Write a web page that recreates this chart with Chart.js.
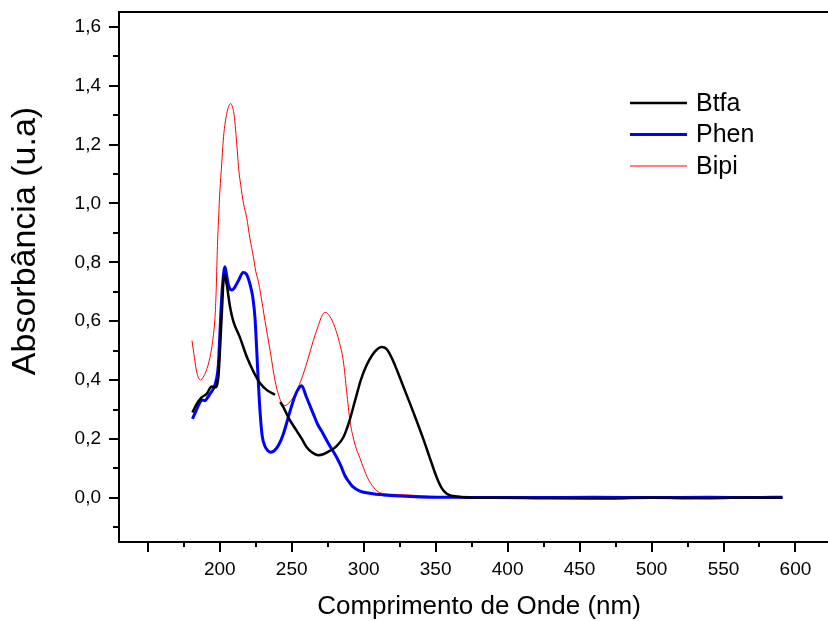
<!DOCTYPE html>
<html>
<head>
<meta charset="utf-8">
<script src="https://cdn.jsdelivr.net/npm/chart.js@4.4.1/dist/chart.umd.min.js"></script>
<style>
  html, body { margin: 0; padding: 0; background: #fff; }
</style>
</head>
<body>
<canvas id="spectra" width="828" height="621"></canvas>
<script>
// UV-Vis spectra: wavelength (nm) and absorbance for each ligand
const btfaNm  = [181, 184, 187.4, 190.9, 194.4, 196.7, 199, 201.3, 203.1, 204.8, 207.1, 209.4, 214, 218.7, 223.3, 227.9, 233, 238.4,
                 240.5,
                 242, 244, 248, 253.4, 257, 260.4, 264, 268.5, 272, 276.6, 281, 285.8, 290, 294, 298, 302, 306, 309, 312.5,
                 316, 320, 323, 327, 332.2, 336.5, 341.4, 346, 350.7, 354, 357.7, 362, 370, 390, 420, 460, 500, 540, 570, 591];
const btfaAbs = [0.29, 0.319, 0.341, 0.353, 0.378, 0.375, 0.409, 0.613, 0.76, 0.726, 0.65, 0.60, 0.545, 0.48, 0.43, 0.39, 0.365, 0.35,
                 null,
                 0.325, 0.31, 0.27, 0.228, 0.2, 0.172, 0.155, 0.145, 0.148, 0.16, 0.175, 0.205, 0.26, 0.33, 0.40, 0.45, 0.485, 0.503, 0.512,
                 0.505, 0.47, 0.435, 0.385, 0.32, 0.265, 0.2, 0.135, 0.07, 0.035, 0.014, 0.006, 0.002, 0.0, -0.001, -0.002, 0.0, -0.001, 0.001, 0.0];

const phenNm  = [181, 183.5, 186.2, 188, 189.7, 191.5, 193.2, 195.5, 197.8, 199, 200.1, 201, 202, 203.6, 205, 205.9, 207, 208.3, 210,
                 212.9, 216.3, 218.5, 221, 223, 224.5, 225.5, 226.5, 227.5, 228.5, 229.5, 231.4, 233.5, 235.4, 238, 241, 244.2, 248,
                 251.1, 254, 256.9, 260, 265, 268, 271.9, 276, 281.2, 284, 287, 289.2, 292, 297.4, 305, 313.6, 325, 340, 360, 380,
                 420, 460, 500, 540, 570, 591];
const phenAbs = [0.268, 0.295, 0.324, 0.332, 0.33, 0.34, 0.353, 0.37, 0.404, 0.45, 0.556, 0.65, 0.726, 0.785, 0.75, 0.726, 0.71, 0.706, 0.712,
                 0.737, 0.765, 0.76, 0.726, 0.68, 0.61, 0.52, 0.42, 0.33, 0.26, 0.21, 0.175, 0.16, 0.155, 0.16, 0.18, 0.217, 0.28,
                 0.33, 0.365, 0.381, 0.345, 0.285, 0.25, 0.217, 0.18, 0.138, 0.11, 0.075, 0.058, 0.04, 0.023, 0.015, 0.01, 0.006, 0.003, 0.002, 0.001,
                 0.001, 0.002, 0.001, 0.002, 0.001, 0.002];

const bipiNm  = [180.7, 182, 183.5, 185, 186.7, 188.5, 190.5, 193.2, 195, 196.7, 197.5, 198.3, 199.2, 200.1, 201.3, 202.4, 203.5, 204.8,
                 206.2, 207.6, 208.8, 209.9, 211, 212.2, 213.3, 214.5, 216.5, 218.7, 221, 223.3, 225, 226.8, 228.5, 231.4, 235, 238.4,
                 241.5, 243.5, 245.3, 248, 251, 254.5, 258, 261.5, 265, 268.5, 271, 273.1, 275.5, 278, 280, 283, 285.8, 288.2, 290.5,
                 293, 295, 297.4, 300, 303, 307, 311, 320, 329.8, 340, 353, 370, 400, 440, 480, 500, 522, 545, 570, 591];
const bipiAbs = [0.534, 0.49, 0.44, 0.41, 0.40, 0.41, 0.43, 0.477, 0.53, 0.613, 0.7, 0.84, 0.95, 1.043, 1.13, 1.212, 1.265, 1.303,
                 1.33, 1.339, 1.328, 1.303, 1.25, 1.178, 1.11, 1.065, 1.0, 0.952, 0.88, 0.82, 0.77, 0.735, 0.69, 0.602, 0.5, 0.398,
                 0.34, 0.32, 0.313, 0.322, 0.341, 0.375, 0.42, 0.475, 0.534, 0.585, 0.618, 0.63, 0.623, 0.603, 0.579, 0.53, 0.466, 0.36, 0.26,
                 0.2, 0.165, 0.135, 0.1, 0.065, 0.035, 0.018, 0.012, 0.01, 0.007, 0.004, 0.002, 0.0, -0.001, -0.003, 0.0, -0.004, 0.0, -0.001, 0.0];

// axis ticks
const xMajor = [150, 200, 250, 300, 350, 400, 450, 500, 550, 600];
const xMinor = [175, 225, 275, 325, 375, 425, 475, 525, 575];
const yMajor = [0, 0.2, 0.4, 0.6, 0.8, 1.0, 1.2, 1.4, 1.6];
const yMinor = [-0.1, 0.1, 0.3, 0.5, 0.7, 0.9, 1.1, 1.3, 1.5];

const xTitle = 'Comprimento de Onde (nm)';
const yTitle = 'Absorbância (u.a)';

const FONT = '"Liberation Sans", Arial, sans-serif';

function toPoints(nm, abs) {
    return nm.map((x, i) => ({ x: x, y: abs[i] }));
}

// box on left/top/bottom with outward major and minor tick marks, plus axis titles
const axisFrame = {
    id: 'axisFrame',
    afterDatasetsDraw(chart) {
        const { ctx, chartArea: a, scales: { x, y } } = chart;
        ctx.save();
        ctx.strokeStyle = '#000';
        ctx.lineWidth = 2;
        ctx.beginPath();
        ctx.moveTo(a.right, a.top);
        ctx.lineTo(a.left, a.top);
        ctx.lineTo(a.left, a.bottom);
        ctx.lineTo(a.right, a.bottom);
        xMajor.forEach(v => { const p = Math.round(x.getPixelForValue(v)); ctx.moveTo(p, a.bottom); ctx.lineTo(p, a.bottom + 10); });
        xMinor.forEach(v => { const p = Math.round(x.getPixelForValue(v)); ctx.moveTo(p, a.bottom); ctx.lineTo(p, a.bottom + 5); });
        yMajor.forEach(v => { const p = Math.round(y.getPixelForValue(v)); ctx.moveTo(a.left - 10, p); ctx.lineTo(a.left, p); });
        yMinor.forEach(v => { const p = Math.round(y.getPixelForValue(v)); ctx.moveTo(a.left - 6, p); ctx.lineTo(a.left, p); });
        ctx.stroke();

        ctx.fillStyle = '#000';
        ctx.textAlign = 'center';
        ctx.font = '26px ' + FONT;
        ctx.textBaseline = 'alphabetic';
        ctx.fillText(xTitle, a.left + 360, chart.height - 7);

        ctx.translate(26, a.top + 229);
        ctx.rotate(-Math.PI / 2);
        ctx.font = '34px ' + FONT;
        ctx.textBaseline = 'middle';
        ctx.fillText(yTitle, 0, 0);
        ctx.restore();
    }
};

// legend drawn inside the plot, upper right
const insetLegend = {
    id: 'insetLegend',
    afterDatasetsDraw(chart) {
        const { ctx, chartArea: a } = chart;
        ctx.save();
        chart.data.datasets.forEach((ds, i) => {
            const ly = a.top + 91 + i * 31.5;
            const lx = a.left + 511;
            ctx.strokeStyle = ds.borderColor;
            ctx.lineWidth = ds.borderWidth;
            ctx.beginPath();
            ctx.moveTo(lx, ly);
            ctx.lineTo(lx + 57, ly);
            ctx.stroke();
            ctx.fillStyle = '#000';
            ctx.font = '25px ' + FONT;
            ctx.textBaseline = 'middle';
            ctx.fillText(ds.label, lx + 66, ly + 1);
        });
        ctx.restore();
    }
};

const ctx = document.getElementById('spectra').getContext('2d');

new Chart(ctx, {
    type: 'line',
    data: {
        datasets: [{
            label: 'Btfa',
            data: toPoints(btfaNm, btfaAbs),
            borderColor: '#000000',
            borderWidth: 2.5,
        }, {
            label: 'Phen',
            data: toPoints(phenNm, phenAbs),
            borderColor: '#0000ff',
            borderWidth: 3,
        }, {
            label: 'Bipi',
            data: toPoints(bipiNm, bipiAbs),
            borderColor: '#ff0000',
            borderWidth: 1,
        }],
    },
    options: {
        responsive: false,
        animation: false,
        devicePixelRatio: 1,
        spanGaps: false,
        elements: {
            point: { radius: 0 },
            line: { cubicInterpolationMode: 'monotone', fill: false },
        },
        layout: { padding: { top: 12, left: 0, right: 0, bottom: 0 } },
        plugins: {
            legend: { display: false },
            tooltip: { enabled: false },
        },
        scales: {
            x: {
                type: 'linear',
                min: 130,
                max: 622.6,
                afterBuildTicks: s => { s.ticks = xMajor.map(v => ({ value: v })); },
                afterFit: s => { s.height = 79; s.paddingLeft = 0; s.paddingRight = 0; },
                grid: { display: false, drawTicks: false },
                border: { display: false },
                ticks: {
                    autoSkip: false,
                    maxRotation: 0,
                    padding: 16,
                    color: '#000',
                    font: { family: FONT, size: 19 },
                    callback: v => (v >= 200 ? String(v) : ''),
                },
            },
            y: {
                min: -0.15,
                max: 1.65,
                afterBuildTicks: s => { s.ticks = yMajor.map(v => ({ value: v })); },
                afterFit: s => { s.width = 119; s.paddingTop = 0; s.paddingBottom = 0; },
                grid: { display: false, drawTicks: false },
                border: { display: false },
                ticks: {
                    padding: 18,
                    color: '#000',
                    font: { family: FONT, size: 19 },
                    callback: v => v.toFixed(1).replace('.', ','),
                },
            },
        },
    },
    plugins: [axisFrame, insetLegend],
});
</script>
</body>
</html>
